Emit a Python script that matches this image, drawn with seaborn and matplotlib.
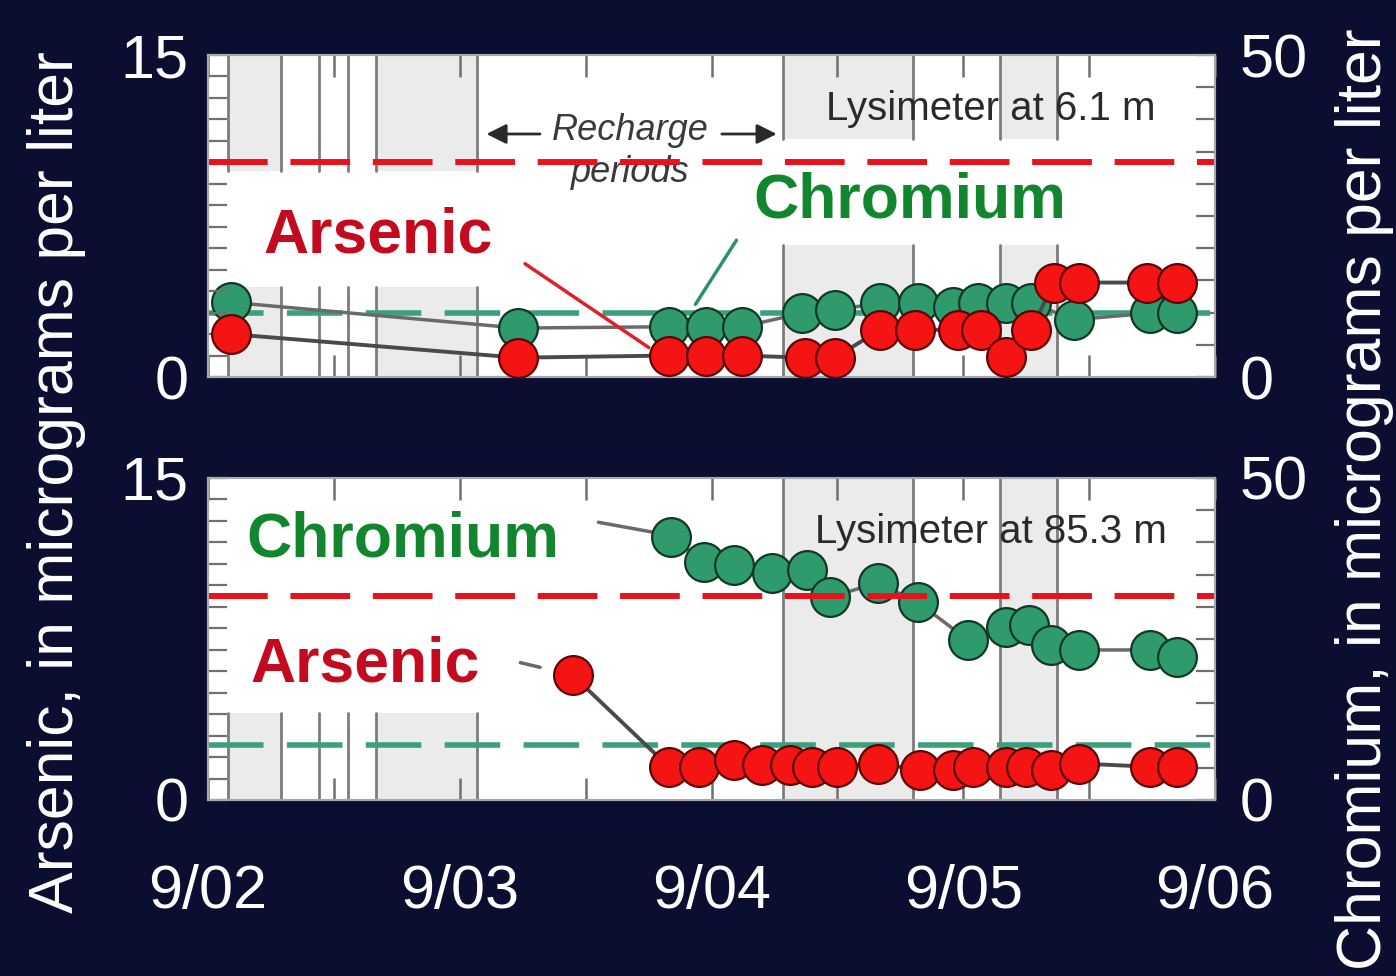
import matplotlib
matplotlib.use("Agg")
import matplotlib.pyplot as plt
import numpy as np
import pandas as pd
import seaborn as sns
from matplotlib.ticker import MultipleLocator, FixedLocator

# ---- data: time in years after September 2002 ----
shallow_as_t = [0.09, 1.23, 1.83, 1.98, 2.12, 2.37, 2.49, 2.67, 2.81, 2.98, 3.07, 3.17, 3.27, 3.36, 3.46, 3.73, 3.85]
shallow_as = [2.0, 0.9, 1.0, 1.0, 1.0, 0.9, 0.9, 2.2, 2.2, 2.2, 2.2, 0.95, 2.2, 4.4, 4.4, 4.4, 4.4]
shallow_cr_t = [0.09, 1.23, 1.83, 1.98, 2.12, 2.36, 2.49, 2.67, 2.82, 2.96, 3.06, 3.17, 3.27, 3.44, 3.74, 3.85]
shallow_cr = [11.6, 7.6, 7.8, 7.8, 7.8, 9.9, 10.4, 11.5, 11.5, 10.9, 11.5, 11.5, 11.5, 8.9, 9.9, 9.9]

deep_as_t = [1.45, 1.83, 1.95, 2.09, 2.20, 2.31, 2.40, 2.50, 2.66, 2.83, 2.96, 3.04, 3.17, 3.25, 3.35, 3.46, 3.74, 3.85]
deep_as = [5.8, 1.55, 1.55, 1.85, 1.65, 1.65, 1.55, 1.55, 1.7, 1.4, 1.4, 1.55, 1.55, 1.55, 1.4, 1.7, 1.55, 1.55]
deep_cr_t = [1.84, 1.97, 2.09, 2.24, 2.38, 2.47, 2.66, 2.82, 3.02, 3.17, 3.26, 3.35, 3.46, 3.74, 3.85]
deep_cr = [40.8, 37.0, 36.5, 35.2, 35.7, 31.5, 33.7, 30.7, 24.8, 26.9, 27.2, 24.1, 23.3, 23.3, 22.2]

# recharge periods (start, end), years after September 2002
recharge_start = [0.079, 0.441, 0.667, 2.284, 3.146]
recharge_end = [0.290, 0.556, 1.068, 2.800, 3.372]
recharge_shaded = [True, False, True, True, True]

year_ticks = [0, 1, 2, 3, 4]
year_labels = ["9/02", "9/03", "9/04", "9/05", "9/06"]

panel_titles = ["Lysimeter at 6.1 m", "Lysimeter at 85.3 m"]
arsenic_ref = [10.0, 9.5]
chromium_ref = [10.0, 8.5]

# ---- style ----
NAVY = "#0c0e31"
RED = "#f41414"
RED_EDGE = "#5c0505"
GREEN = "#2f9a6b"
GREEN_EDGE = "#103826"
RED_TEXT = "#c40a1e"
GREEN_TEXT = "#12862f"
GRID_GRAY = "#7c7c7c"
SHADE = "#ebebeb"

sns.set_theme(style="white")
plt.rcParams["font.family"] = ["Liberation Sans", "DejaVu Sans"]

W, H = 1396, 976
fig = plt.figure(figsize=(W / 100, H / 100), dpi=100, facecolor=NAVY)

ax_left = 208 / W
ax_width = 1007 / W
panels = [
    dict(bottom=1 - 377 / H, early=[(0.0, 0.28), (0.64, 1.0)], late=[(0.0, 0.41), (0.74, 1.0)]),
    dict(bottom=1 - 800 / H, early=[(0.0, 0.27)], late=[(0.0, 1.0)]),
]
ax_height = 322 / H

series = [
    (shallow_as_t, shallow_as, shallow_cr_t, shallow_cr),
    (deep_as_t, deep_as, deep_cr_t, deep_cr),
]

MS = 780

for i, p in enumerate(panels):
    ax = fig.add_axes([ax_left, p["bottom"], ax_width, ax_height])
    ax2 = ax.twinx()
    ax.set_zorder(ax2.get_zorder() + 1)
    ax.patch.set_visible(False)
    ax2.patch.set_visible(True)
    ax2.patch.set_facecolor("white")

    ax.set_xlim(0, 4)
    ax.set_ylim(0, 15)
    ax2.set_ylim(0, 50)

    # recharge periods: shading and boundary lines
    for s, e, shaded in zip(recharge_start, recharge_end, recharge_shaded):
        segs = p["early"] if s < 1.5 else p["late"]
        for lo, hi in segs:
            if shaded:
                ax2.axvspan(s, e, ymin=lo, ymax=hi, color=SHADE, lw=0, zorder=0.5)
            for xv in (s, e):
                ax2.axvline(xv, ymin=lo, ymax=hi, color=GRID_GRAY, lw=2, zorder=1)

    as_t, as_v, cr_t, cr_v = series[i]
    df_as = pd.DataFrame({"t": as_t, "v": as_v})
    df_cr = pd.DataFrame({"t": cr_t, "v": cr_v})

    # reference levels
    ax.axhline(arsenic_ref[i], color="#e8121c", lw=4.3, ls=(0, (10, 3.8)), zorder=2)
    ax2.axhline(chromium_ref[i], color="#3ba07b", lw=4.0, ls=(0, (10, 4.2)), zorder=1.5)

    # chromium series
    sns.lineplot(data=df_cr, x="t", y="v", ax=ax2, color="#6a6a6a", lw=2.5,
                 sort=False, estimator=None, zorder=2)
    sns.scatterplot(data=df_cr, x="t", y="v", ax=ax2, s=MS, color=GREEN,
                    edgecolor=GREEN_EDGE, linewidth=1.6, zorder=3, legend=False)

    # arsenic series
    sns.lineplot(data=df_as, x="t", y="v", ax=ax, color="#4a4a4a", lw=2.8,
                 sort=False, estimator=None, zorder=2.5)
    sns.scatterplot(data=df_as, x="t", y="v", ax=ax, s=MS, color=RED,
                    edgecolor=RED_EDGE, linewidth=1.6, zorder=3, legend=False)

    for a in (ax, ax2):
        a.set_xlabel("")
        a.set_ylabel("")
        for sp in a.spines.values():
            sp.set_color("#a8a8a8")
            sp.set_linewidth(1.5)

    # ticks
    ax.xaxis.set_major_locator(FixedLocator(year_ticks))
    ax.xaxis.set_minor_locator(MultipleLocator(0.5))
    ax.tick_params(axis="x", which="both", direction="in", top=True, bottom=True,
                   length=16, width=1.8, color="#707070", labelcolor="white",
                   labelsize=44, pad=46)
    if i == 1:
        ax.set_xticklabels(year_labels)
    else:
        ax.tick_params(axis="x", labelbottom=False)

    ax.yaxis.set_major_locator(FixedLocator([0, 15]))
    ax.yaxis.set_minor_locator(MultipleLocator(1))
    ax.set_yticklabels(["0", "15"])
    ax.tick_params(axis="y", which="both", direction="in", left=True, right=False,
                   length=14, width=1.6, color="#707070", labelcolor="white",
                   labelsize=44, pad=14)

    ax2.yaxis.set_major_locator(FixedLocator([0, 50]))
    ax2.yaxis.set_minor_locator(MultipleLocator(5))
    ax2.set_yticklabels(["0", "50"])
    ax2.tick_params(axis="y", which="both", direction="in", right=True, left=False,
                    length=14, width=1.6, color="#707070", labelcolor="white",
                    labelsize=44, pad=18)

    # panel title
    ax.text(3.11, 11.97, panel_titles[i], ha="center", va="baseline", fontsize=29,
            color="#2a2a2a", zorder=4)

    if i == 0:
        ax.text(0.675, 5.78, "Arsenic", ha="center", va="baseline", fontsize=45,
                fontweight="bold", color=RED_TEXT, zorder=4)
        ax.text(2.789, 7.41, "Chromium", ha="center", va="baseline", fontsize=45,
                fontweight="bold", color=GREEN_TEXT, zorder=4)
        ax.annotate("", xy=(1.76, 1.3), xytext=(1.25, 5.35),
                    arrowprops=dict(arrowstyle="-", color="#e0202a", lw=2.5), zorder=2.6)
        ax2.annotate("", xy=(1.93, 10.9), xytext=(2.105, 21.6),
                     arrowprops=dict(arrowstyle="-", color="#2e8f6e", lw=2.5), zorder=2.6)
        ax.text(1.676, 11.04, "Recharge", ha="center", va="baseline", fontsize=26,
                style="italic", color="#3a3a3a", zorder=1.8)
        ax.text(1.676, 9.08, "periods", ha="center", va="baseline", fontsize=26,
                style="italic", color="#3a3a3a", zorder=1.8)
        ax.annotate("", xy=(1.095, 11.32), xytext=(1.33, 11.32),
                    arrowprops=dict(arrowstyle="-|>", color="#2a2a2a", lw=2,
                                    mutation_scale=30), zorder=4)
        ax.annotate("", xy=(2.27, 11.32), xytext=(2.03, 11.32),
                    arrowprops=dict(arrowstyle="-|>", color="#2a2a2a", lw=2,
                                    mutation_scale=30), zorder=4)
    else:
        ax.text(0.775, 11.32, "Chromium", ha="center", va="baseline", fontsize=45,
                fontweight="bold", color=GREEN_TEXT, zorder=4)
        ax.text(0.624, 5.50, "Arsenic", ha="center", va="baseline", fontsize=45,
                fontweight="bold", color=RED_TEXT, zorder=4)
        ax2.annotate("", xy=(1.78, 41.5), xytext=(1.54, 43.2),
                     arrowprops=dict(arrowstyle="-", color="#6a6a6a", lw=2.5), zorder=2.6)
        ax.annotate("", xy=(1.33, 6.15), xytext=(1.23, 6.43),
                    arrowprops=dict(arrowstyle="-", color="#6a6a6a", lw=2.5), zorder=2.6)

fig.text(57 / W, 1 - 482 / H, "Arsenic, in micrograms per liter", rotation=90,
         ha="center", va="center", fontsize=45, color="white")
fig.text(1365 / W, 1 - 499 / H, "Chromium, in micrograms per liter", rotation=90,
         ha="center", va="center", fontsize=45, color="white")

fig.savefig("out.png", dpi=100, facecolor=NAVY)
